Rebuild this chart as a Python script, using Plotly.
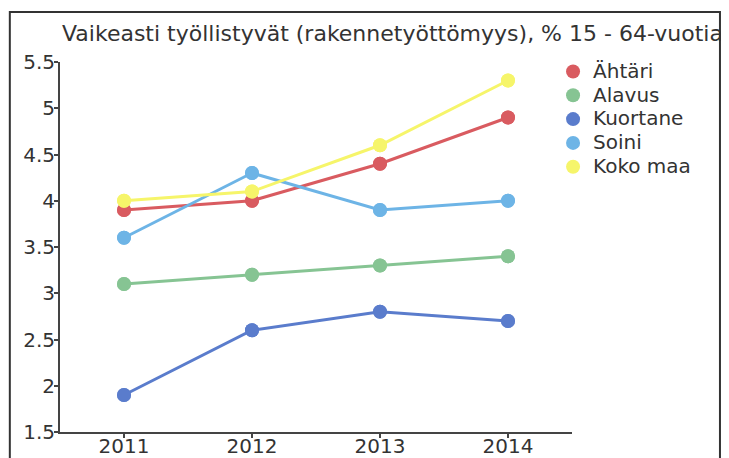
import plotly.graph_objects as go

# -------------------------------------------------------
# Data
# -------------------------------------------------------

years = [2011, 2012, 2013, 2014]

series_names = ["Ähtäri", "Alavus", "Kuortane", "Soini", "Koko maa"]

ahtari = [3.9, 4.0, 4.4, 4.9]
alavus = [3.1, 3.2, 3.3, 3.4]
kuortane = [1.9, 2.6, 2.8, 2.7]
soini = [3.6, 4.3, 3.9, 4.0]
koko_maa = [4.0, 4.1, 4.6, 5.3]

y_ticks = [1.5, 2, 2.5, 3, 3.5, 4, 4.5, 5, 5.5]

colors = ["#d95b60", "#86c493", "#5a7ccc", "#6db4e6", "#f6f56a"]

values = [ahtari, alavus, kuortane, soini, koko_maa]

font_family = "DejaVu Sans, Verdana, sans-serif"

# page body has an 8px margin, so positions below are offset by it
off = 8

# -------------------------------------------------------
# Figure
# -------------------------------------------------------

fig = go.Figure()

for name, vals, col in zip(series_names, values, colors):

    fig.add_trace(
        go.Scatter(
            x=years,
            y=vals,
            mode="lines+markers",
            name=name,
            legendgroup=name,
            showlegend=False,
            line=dict(color=col, width=3),
            marker=dict(color=col, size=14),
            hoverinfo="skip"
        )
    )

    # marker-only legend entry (label drawn larger than the row height)
    fig.add_trace(
        go.Scatter(
            x=years,
            y=vals,
            mode="markers",
            name=f'<span style="font-size:20px">{name}</span>',
            legendgroup=name,
            marker=dict(color=col, size=14)
        )
    )

axis_style = dict(
    showgrid=False,
    zeroline=False,
    showline=True,
    linecolor="#444444",
    linewidth=2,
    ticks="outside",
    ticklen=4,
    tickwidth=1.5,
    tickcolor="#444444",
    tickfont=dict(size=20),
    automargin=False
)

fig.update_layout(

    width=729,
    height=458,

    paper_bgcolor="white",
    plot_bgcolor="white",

    margin=dict(l=60 - off, r=729 - 572 + off, t=62 - off, b=458 - 432 + off),

    font=dict(family=font_family, size=20, color="#333333"),

    title=dict(
        text="Vaikeasti työllistyvät (rakennetyöttömyys), % 15 - 64-vuotia",
        x=(62 - off) / 729,
        xanchor="left",
        y=1 - (33 - off) / 458,
        yanchor="middle",
        font=dict(family=font_family, size=22, color="#333333")
    ),

    xaxis=dict(
        range=[2010.5, 2014.5],
        tickvals=years,
        ticktext=[str(y) for y in years],
        ticklabelstandoff=-9,
        **axis_style
    ),

    yaxis=dict(
        range=[1.5, 5.5],
        tickvals=y_ticks,
        ticktext=[f"{v:g}" for v in y_ticks],
        ticklabelstandoff=-5,
        **axis_style
    ),

    legend=dict(
        x=0.963,
        xanchor="left",
        y=1.02,
        yanchor="top",
        bgcolor="rgba(0,0,0,0)",
        font=dict(size=16, color="#333333"),
        itemwidth=30,
        tracegroupgap=0
    ),

    shapes=[
        dict(
            type="rect",
            xref="paper",
            yref="paper",
            x0=-0.098,
            x1=1.289,
            y0=-0.2,
            y1=1.135,
            line=dict(color="#333333", width=2),
            fillcolor="rgba(0,0,0,0)",
            layer="below"
        )
    ]

)

fig.write_html("out.html")
